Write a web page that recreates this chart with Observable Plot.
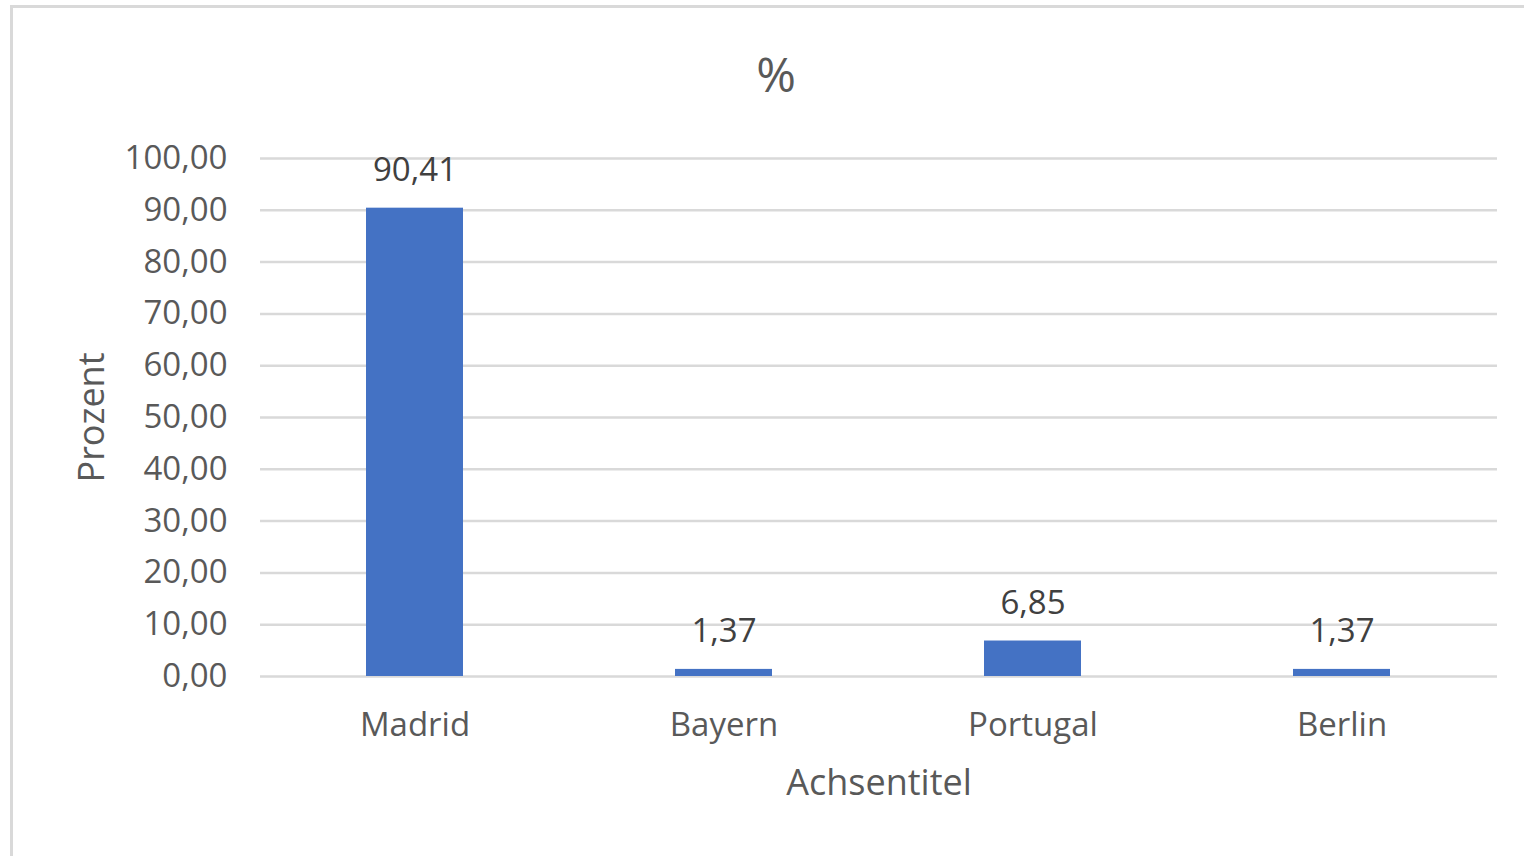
<!DOCTYPE html>
<html>
<head>
<meta charset="utf-8">
<script src="https://cdn.jsdelivr.net/npm/d3@7"></script>
<script src="https://cdn.jsdelivr.net/npm/@observablehq/plot@0.6"></script>
<style>
  html, body { margin: 0; padding: 0; background: #fff; overflow: hidden; width: 1524px; height: 856px; }
  #frame { position: absolute; left: 10px; top: 5px; width: 1560px; height: 900px; border: 3px solid #d9d9d9; box-sizing: border-box; }
  #title { position: absolute; left: 0; top: 50px; width: 1552px; text-align: center; font-family: "Open Sans", sans-serif; font-size: 48px; color: #595959; line-height: 1; }
  #chart { position: absolute; left: 0; top: 110px; }
</style>
</head>
<body>
<div id="frame"></div>
<div id="title">%</div>
<div id="chart"></div>
<script>
const categories = ["Madrid", "Bayern", "Portugal", "Berlin"];
const values = [90.41, 1.37, 6.85, 1.37];
const yTicks = [0, 10, 20, 30, 40, 50, 60, 70, 80, 90, 100];

const de = d3.formatLocale({decimal: ",", thousands: ".", grouping: [3], currency: ["", " €"]});
const fmt = de.format(".2f");

const data = categories.map((c, i) => ({category: c, value: values[i]}));

const font = "Open Sans, sans-serif";
const plot = Plot.plot({
  width: 1524,
  height: 746,
  marginLeft: 260,
  marginRight: 27,
  marginTop: 48,
  marginBottom: 180,
  style: {fontFamily: font, fontSize: "33px", color: "#595959", background: "transparent"},
  x: {domain: categories, paddingInner: 0.686, paddingOuter: 0.343},
  y: {domain: [0, 100]},
  marks: [
    Plot.gridY(yTicks, {stroke: "#d9d9d9", strokeOpacity: 1, strokeWidth: 2.5}),
    Plot.barY(data, {x: "category", y: "value", fill: "#4472C4"}),
    Plot.text(data, {x: "category", y: "value", text: d => fmt(d.value), dy: -27, lineAnchor: "bottom", fill: "#404040", fontSize: 33}),
    Plot.axisY(yTicks, {tickSize: 0, tickPadding: 33, tickFormat: fmt, label: null, fontSize: 33}),
    Plot.axisY([], {tickSize: 0, label: "Prozent", labelAnchor: "center", labelOffset: 182, labelArrow: "none", fontSize: 36}),
    Plot.axisX({tickSize: 0, tickPadding: 36, label: null, fontSize: 33}),
    Plot.axisX([], {tickSize: 0, label: "Achsentitel", labelAnchor: "center", labelOffset: 118, labelArrow: "none", fontSize: 36})
  ]
});
document.getElementById("chart").appendChild(plot);
</script>
</body>
</html>
